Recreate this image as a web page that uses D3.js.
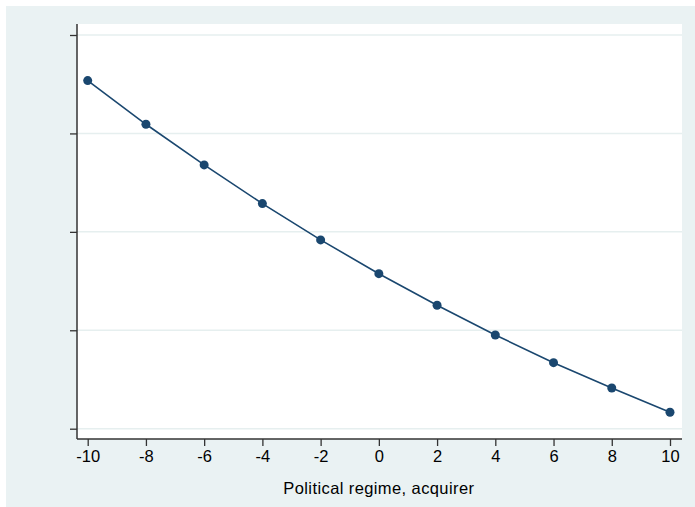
<!DOCTYPE html>
<html>
<head>
<meta charset="utf-8">
<script src="https://cdn.jsdelivr.net/npm/d3@7"></script>
<style>
  body { margin: 0; background: #fff; }
  svg { display: block; font-family: "Liberation Sans", Arial, sans-serif; }
</style>
</head>
<body>
<div id="chart"></div>
<script>
// data (y axis has no labels, so units are arbitrary)
var regime = [-10, -8, -6, -4, -2, 0, 2, 4, 6, 8, 10];
var effect = [3.537, 3.093, 2.680, 2.287, 1.918, 1.575, 1.254, 0.952, 0.671, 0.414, 0.167];
var xTicks = [-10, -8, -6, -4, -2, 0, 2, 4, 6, 8, 10];
var yTicks = [0, 1, 2, 3, 4];
var xTitle = 'Political regime, acquirer';

var width = 695, height = 507;
var navy = '#1a476f';

var svg = d3.select('#chart')
    .append('svg')
    .attr('width', width)
    .attr('height', height);

// outer graph region
svg.append('rect')
    .attr('x', 6).attr('y', 6)
    .attr('width', width - 6).attr('height', height - 6)
    .attr('fill', '#eaf2f3');

// plot region box
var box = {left: 77, right: 682, top: 24, bottom: 439};
svg.append('rect')
    .attr('x', box.left).attr('y', box.top)
    .attr('width', box.right - box.left).attr('height', box.bottom - box.top)
    .attr('fill', '#fff');

var x = d3.scaleLinear().domain([-10, 10]).range([87.7, 670]);
var y = d3.scaleLinear().domain([0, 4]).range([428.7, 35]);

// horizontal grid lines
svg.append('g')
    .selectAll('line')
    .data(yTicks)
    .enter()
    .append('line')
        .attr('x1', box.left).attr('x2', box.right)
        .attr('y1', function(d) { return y(d); })
        .attr('y2', function(d) { return y(d); })
        .attr('stroke', '#e6efef')
        .attr('stroke-width', 1.5);

// y axis, ticks only
var yAxis = svg.append('g')
    .attr('transform', 'translate(' + box.left + ',0)')
    .call(d3.axisLeft(y).tickValues(yTicks).tickFormat('').tickSize(7).tickSizeOuter(0));
yAxis.select('.domain').remove();
yAxis.append('line')
    .attr('x1', 0).attr('x2', 0)
    .attr('y1', box.top).attr('y2', box.bottom)
    .attr('stroke', '#333').attr('stroke-width', 1.5);
yAxis.selectAll('.tick line').attr('stroke', '#333').attr('stroke-width', 1.3);

// x axis, plain hyphen for negatives like the original
var xAxis = svg.append('g')
    .attr('transform', 'translate(0,' + box.bottom + ')')
    .call(d3.axisBottom(x).tickValues(xTicks).tickFormat(function(d) { return String(d); })
        .tickSize(7).tickSizeOuter(0));
xAxis.select('.domain').remove();
xAxis.append('line')
    .attr('x1', box.left).attr('x2', box.right)
    .attr('y1', 0).attr('y2', 0)
    .attr('stroke', '#333').attr('stroke-width', 1.5);
xAxis.selectAll('.tick line').attr('stroke', '#333').attr('stroke-width', 1.3);
xAxis.selectAll('.tick text')
    .attr('y', 11)
    .attr('dy', '0.71em')
    .attr('fill', '#000')
    .style('font-size', '16.5px')
    .style('font-family', '"Liberation Sans", Arial, sans-serif');

svg.append('text')
    .attr('x', x(0))
    .attr('y', 494)
    .attr('text-anchor', 'middle')
    .style('font-size', '16.5px')
    .style('letter-spacing', '0.4px')
    .text(xTitle);

// line and markers
var pts = regime.map(function(d, i) { return {x: d, y: effect[i]}; });
var line = d3.line()
    .x(function(d) { return x(d.x); })
    .y(function(d) { return y(d.y); });

svg.append('path')
    .datum(pts)
    .attr('d', line)
    .attr('fill', 'none')
    .attr('stroke', navy)
    .attr('stroke-width', 1.6);

svg.append('g')
    .selectAll('circle')
    .data(pts)
    .enter()
    .append('circle')
        .attr('cx', function(d) { return x(d.x); })
        .attr('cy', function(d) { return y(d.y); })
        .attr('r', 4.5)
        .attr('fill', navy);
</script>
</body>
</html>
